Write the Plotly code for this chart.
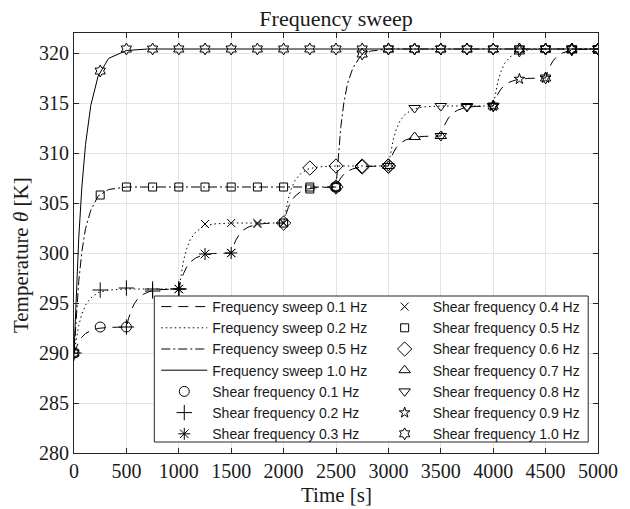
import plotly.graph_objects as go

# ---------------- data ----------------
# Frequency-sweep curves (time [s], temperature [K])
sw01_t = [0, 20, 45, 75, 110, 160, 230, 330,
          500, 520, 545, 575, 610, 660, 730, 830,
          1000, 1020, 1045, 1075, 1110, 1160, 1230, 1330,
          1500, 1520, 1545, 1575, 1610, 1660, 1730, 1830,
          2000, 2020, 2045, 2075, 2110, 2160, 2230, 2330,
          2500, 2520, 2545, 2575, 2610, 2660, 2730, 2830,
          3000, 3020, 3045, 3075, 3110, 3160, 3230, 3330,
          3500, 3520, 3545, 3575, 3610, 3660, 3730, 3830,
          4000, 4020, 4045, 4075, 4110, 4160, 4230, 4330,
          4500, 4520, 4545, 4575, 4610, 4660, 4730, 4830,
          5000]
sw01_T = [290, 290.57, 291.12, 291.59, 291.95, 292.24, 292.46, 292.56,
          292.6, 293.44, 294.23, 294.92, 295.45, 295.87, 296.19, 296.34,
          296.4, 297.19, 297.95, 298.6, 299.1, 299.5, 299.8, 299.95,
          300.0, 300.66, 301.29, 301.83, 302.25, 302.58, 302.84, 302.96,
          303.0, 303.79, 304.55, 305.2, 305.7, 306.1, 306.4, 306.55,
          306.6, 307.06, 307.5, 307.88, 308.18, 308.41, 308.58, 308.67,
          308.7, 309.36, 309.99, 310.53, 310.95, 311.28, 311.54, 311.66,
          311.7, 312.36, 312.99, 313.53, 313.95, 314.28, 314.54, 314.66,
          314.7, 315.32, 315.9, 316.41, 316.8, 317.11, 317.35, 317.46,
          317.5, 318.14, 318.75, 319.27, 319.68, 320.0, 320.24, 320.36,
          320.4]

sw02_t = [0, 20, 45, 75, 110, 160, 230, 330, 500,
          1000, 1020, 1045, 1075, 1110, 1160, 1230, 1330, 1500,
          2000, 2020, 2045, 2075, 2110, 2160, 2230, 2330, 2500,
          3000, 3020, 3045, 3075, 3110, 3160, 3230, 3330, 3500,
          4000, 4020, 4045, 4075, 4110, 4160, 4230, 4330, 4500,
          5000]
sw02_T = [290, 291.41, 292.75, 293.9, 294.8, 295.5, 296.05, 296.3, 296.4,
          296.4, 297.85, 299.24, 300.43, 301.35, 302.08, 302.64, 302.9, 303.0,
          303.0, 304.25, 305.45, 306.48, 307.28, 307.9, 308.39, 308.61, 308.7,
          308.7, 310.02, 311.28, 312.36, 313.2, 313.86, 314.37, 314.61, 314.7,
          314.7, 315.95, 317.15, 318.18, 318.98, 319.6, 320.09, 320.31, 320.4,
          320.4]

sw05_t = [0, 20, 45, 75, 110, 160, 230, 330, 500,
          2500, 2520, 2545, 2575, 2610, 2660, 2730, 2830, 3000,
          5000]
sw05_T = [290, 293.65, 297.14, 300.13, 302.45, 304.28, 305.69, 306.35, 306.6,
          306.6, 309.64, 312.53, 315.02, 316.95, 318.47, 319.64, 320.19, 320.4,
          320.4]

sw10_t = [0, 20, 45, 75, 110, 160, 230, 330, 500, 700, 5000]
sw10_T = [290, 295.78, 301.46, 306.6, 310.85, 314.75, 317.69, 319.46, 320.25, 320.4, 320.4]

# Shear-frequency sample points (every 250 s) on each sweep
marker_t = [0, 250, 500, 750, 1000, 1250, 1500, 1750, 2000, 2250, 2500,
            2750, 3000, 3250, 3500, 3750, 4000, 4250, 4500, 4750, 5000]
sw01_m = [290, 292.6, 292.6, 296.2, 296.4, 299.9, 300.0, 302.9, 303.0, 306.4, 306.6,
          308.6, 308.7, 311.6, 311.7, 314.6, 314.7, 317.4, 317.5, 320.3, 320.4]
sw02_m = [290, 296.3, 296.5, 296.4, 296.4, 302.9, 303.0, 303.0, 303.0, 308.5, 308.7,
          308.7, 308.7, 314.5, 314.7, 314.7, 314.7, 320.2, 320.4, 320.4, 320.4]
sw05_m = [290, 305.8, 306.6, 306.6, 306.6, 306.6, 306.6, 306.6, 306.6, 306.6, 306.6,
          319.9, 320.4, 320.4, 320.4, 320.4, 320.4, 320.4, 320.4, 320.4, 320.4]
sw10_m = [290, 318.2, 320.4, 320.4, 320.4, 320.4, 320.4, 320.4, 320.4, 320.4, 320.4,
          320.4, 320.4, 320.4, 320.4, 320.4, 320.4, 320.4, 320.4, 320.4, 320.4]

sweep_rates = [0.1, 0.2, 0.5, 1.0]          # Hz step of each sweep
sweep_step_s = [500, 1000, 2500, 5000]      # duration of one step [s]
sweep_names = ["Frequency sweep 0.1 Hz", "Frequency sweep 0.2 Hz",
               "Frequency sweep 0.5 Hz", "Frequency sweep 1.0 Hz"]
shear_freqs = [0.1, 0.2, 0.3, 0.4, 0.5, 0.6, 0.7, 0.8, 0.9, 1.0]
shear_names = ["Shear frequency %.1f Hz" % f for f in shear_freqs]
x_ticks = [0, 500, 1000, 1500, 2000, 2500, 3000, 3500, 4000, 4500, 5000]
y_ticks = [280, 285, 290, 295, 300, 305, 310, 315, 320]

# ---------------- styles ----------------
line_dash = ["10px,7px", "1.5px,3px", "9px,3px,2px,3px", "solid"]
symbols = ["circle-open", "cross-thin-open", "asterisk-open", "x-thin-open",
           "square-open", "diamond-open", "triangle-up-open", "triangle-down-open",
           "star-open", "hexagram-open"]
sizes = [10, 11, 10, 8, 8, 11, 10, 10, 8, 9]

lines_t = [sw01_t, sw02_t, sw05_t, sw10_t]
lines_T = [sw01_T, sw02_T, sw05_T, sw10_T]
markers_T = [sw01_m, sw02_m, sw05_m, sw10_m]

fig = go.Figure()
for i in range(4):
    fig.add_trace(go.Scatter(
        x=lines_t[i], y=lines_T[i], mode="lines", name=sweep_names[i],
        line=dict(color="black", width=1, dash=line_dash[i]),
        legend="legend", legendrank=i + 1))

for j, f in enumerate(shear_freqs):
    xs, ys = [], []
    fi = round(f * 10)
    for s, rate in enumerate(sweep_rates):
        ri = round(rate * 10)
        if fi % ri:
            continue
        k = fi // ri - 1
        t0, t1 = k * sweep_step_s[s], (k + 1) * sweep_step_s[s]
        for t, T in zip(marker_t, markers_T[s]):
            if t0 <= t <= t1:
                xs.append(t)
                ys.append(T)
    fig.add_trace(go.Scatter(
        x=xs, y=ys, mode="markers", name=shear_names[j],
        marker=dict(symbol=symbols[j], size=sizes[j], color="black",
                    line=dict(color="black", width=1)),
        legend="legend" if j < 3 else "legend2", legendrank=10 + j))

serif = "Liberation Serif"
txt = "#1a1a1a"
axis_common = dict(showline=True, linecolor="#262626", linewidth=1, mirror="ticks",
                   ticks="inside", ticklen=5, tickcolor="#262626", tickwidth=1,
                   showgrid=True, gridcolor="#e4e4e4", gridwidth=1, zeroline=False,
                   tickfont=dict(family=serif, size=20, color=txt))

legend_common = dict(bgcolor="rgba(0,0,0,0)", borderwidth=0,
                     font=dict(family="Liberation Sans", size=14, color=txt),
                     itemwidth=46, tracegroupgap=0, xanchor="left", yanchor="top")

fig.update_layout(
    width=630, height=509,
    margin=dict(l=74, r=21, t=33, b=56),
    paper_bgcolor="white", plot_bgcolor="white",
    title=dict(text="Frequency sweep", xref="paper", x=0.5, xanchor="center",
               y=1 - 18 / 509, yanchor="middle",
               font=dict(family=serif, size=22, color=txt)),
    xaxis=dict(range=[0, 5000], tickvals=x_ticks, **axis_common),
    yaxis=dict(range=[280, 322], tickvals=y_ticks, **axis_common),
    annotations=[
        dict(text="Temperature <i>θ</i> [K]", textangle=-90,
             xref="paper", yref="paper",
             x=(20 - 74) / 535, y=(453 - 255) / 420,
             xanchor="center", yanchor="middle", showarrow=False,
             font=dict(family=serif, size=21, color=txt)),
        dict(text="Time [s]", xref="paper", yref="paper",
             x=0.5, y=(453 - 495) / 420,
             xanchor="center", yanchor="middle", showarrow=False,
             font=dict(family=serif, size=21, color=txt)),
    ],
    legend=dict(x=(158 - 74) / 535, y=(453 - 291) / 420, **legend_common),
    legend2=dict(x=(383 - 74) / 535, y=(453 - 291) / 420, **legend_common),
    shapes=[dict(type="rect", xref="paper", yref="paper",
                 x0=(156 - 74) / 535, x1=(599 - 74) / 535,
                 y0=(453 - 442) / 420, y1=(453 - 296) / 420,
                 line=dict(color="#262626", width=1), fillcolor="white", layer="above")],
    showlegend=True,
)

fig.write_html("out.html")
